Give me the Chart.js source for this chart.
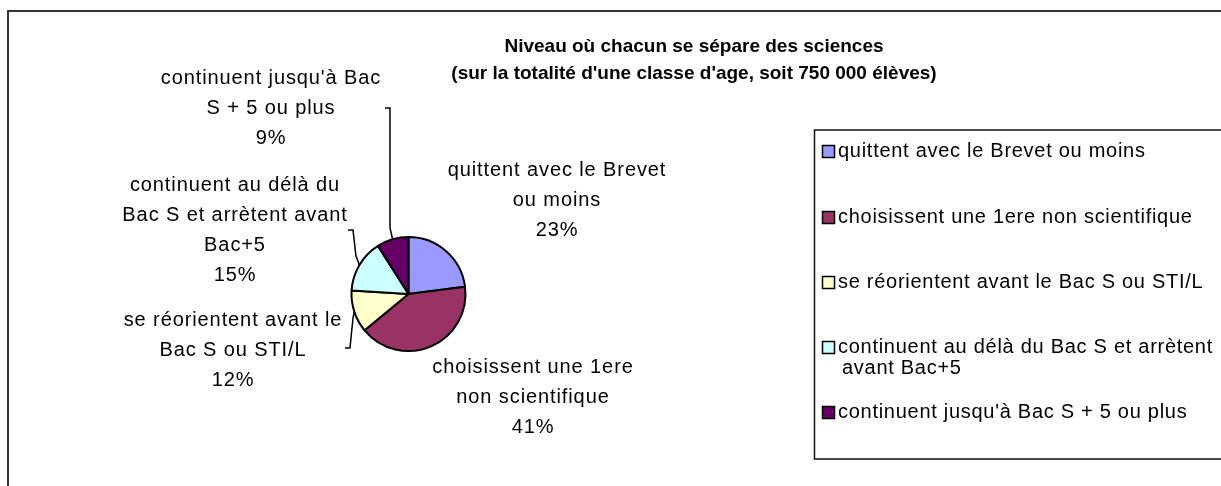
<!DOCTYPE html>
<html>
<head>
<meta charset="utf-8">
<script src="https://cdn.jsdelivr.net/npm/chart.js@4.4.0/dist/chart.umd.min.js"></script>
<style>
  html, body { margin: 0; padding: 0; background: #fff; }
  #wrap { width: 1221px; height: 486px; }
</style>
</head>
<body>
<div id="wrap"><canvas id="chart" width="1221" height="486"></canvas></div>
<script>
// --- data ---
const categories = [
  'quittent avec le Brevet ou moins',
  'choisissent une 1ere non scientifique',
  'se réorientent avant le Bac S ou STI/L',
  'continuent au délà du Bac S et arrètent avant Bac+5',
  'continuent jusqu\'à Bac S + 5 ou plus'
];
const shares = [23, 41, 12, 15, 9];
const sliceColors = ['#9999FF', '#993366', '#FFFFCC', '#CCFFFF', '#660066'];
const titleLines = [
  'Niveau où chacun se sépare des sciences',
  '(sur la totalité d\'une classe d\'age, soit 750 000 élèves)'
];
// how the labels next to the pie wrap
const pieLabelLines = [
  ['quittent avec le Brevet', 'ou moins'],
  ['choisissent une 1ere', 'non scientifique'],
  ['se réorientent avant le', 'Bac S ou STI/L'],
  ['continuent au délà du', 'Bac S et arrètent avant', 'Bac+5'],
  ['continuent jusqu\'à Bac', 'S + 5 ou plus']
];
// how the legend entries wrap
const legendLines = [
  ['quittent avec le Brevet ou moins'],
  ['choisissent une 1ere non scientifique'],
  ['se réorientent avant le Bac S ou STI/L'],
  ['continuent au délà du Bac S et arrètent', 'avant Bac+5'],
  ['continuent jusqu\'à Bac S + 5 ou plus']
];

// --- layout (positions only) ---
const labelPos = [
  { x: 557, y: 170 },
  { x: 533, y: 367 },
  { x: 233, y: 320 },
  { x: 235, y: 185 },
  { x: 271, y: 78 }
];
// leader line points from the label side; the slice edge is added at the end
const leaders = [
  null,
  null,
  [[345, 348], [350, 348], [353, 318]],
  [[348, 230], [353, 230], [356, 256]],
  [[385, 108], [390, 108], [390, 228]]
];
const FONT = '"Liberation Sans", Arial, sans-serif';

const decor = {
  id: 'decor',
  afterDraw(chart) {
    const ctx = chart.ctx;
    ctx.save();

    // outer frame
    ctx.strokeStyle = '#333';
    ctx.lineWidth = 2;
    ctx.strokeRect(8, 11, 1240, 500);

    // title
    ctx.fillStyle = '#000';
    ctx.font = 'bold 19px ' + FONT;
    ctx.textAlign = 'center';
    ctx.textBaseline = 'middle';
    titleLines.forEach((t, i) => ctx.fillText(t, 694, 47 + i * 27));

    // data labels
    ctx.font = '20px ' + FONT;
    ctx.letterSpacing = '0.9px';
    const meta = chart.getDatasetMeta(0);
    pieLabelLines.forEach((lines, i) => {
      const p = labelPos[i];
      const all = lines.concat([shares[i] + '%']);
      all.forEach((t, k) => ctx.fillText(t, p.x, p.y + k * 30));
    });

    // leader lines
    ctx.strokeStyle = '#000';
    ctx.lineWidth = 1.5;
    leaders.forEach((pts, i) => {
      if (!pts) return;
      const arc = meta.data[i];
      const mid = (arc.startAngle + arc.endAngle) / 2;
      const ex = arc.x + Math.cos(mid) * arc.outerRadius;
      const ey = arc.y + Math.sin(mid) * arc.outerRadius;
      ctx.beginPath();
      ctx.moveTo(pts[0][0], pts[0][1]);
      pts.slice(1).forEach(q => ctx.lineTo(q[0], q[1]));
      ctx.lineTo(ex, ey);
      ctx.stroke();
    });

    // legend box
    ctx.lineWidth = 1.5;
    ctx.strokeStyle = '#111';
    ctx.strokeRect(814.5, 130, 420, 329);
    ctx.textAlign = 'left';
    ctx.letterSpacing = '0.72px';
    const rowY = [151, 217, 282, 347, 412];
    legendLines.forEach((lines, i) => {
      const y = rowY[i];
      ctx.fillStyle = sliceColors[i];
      ctx.fillRect(822, y - 6, 13, 13);
      ctx.lineWidth = 1.5;
      ctx.strokeStyle = '#000';
      ctx.strokeRect(822.5, y - 5.5, 12, 12);
      ctx.fillStyle = '#000';
      lines.forEach((t, k) => ctx.fillText(t, k === 0 ? 838 : 842, y + k * 21));
    });

    ctx.restore();
  }
};

new Chart(document.getElementById('chart'), {
  type: 'pie',
  data: {
    labels: categories,
    datasets: [{
      data: shares,
      backgroundColor: sliceColors,
      borderColor: '#000',
      borderWidth: 2,
      hoverOffset: 0
    }]
  },
  options: {
    responsive: false,
    animation: false,
    events: [],
    layout: { padding: { left: 350, right: 754, top: 236, bottom: 134 } },
    plugins: {
      legend: { display: false },
      tooltip: { enabled: false },
      title: { display: false }
    }
  },
  plugins: [decor]
});
</script>
</body>
</html>
